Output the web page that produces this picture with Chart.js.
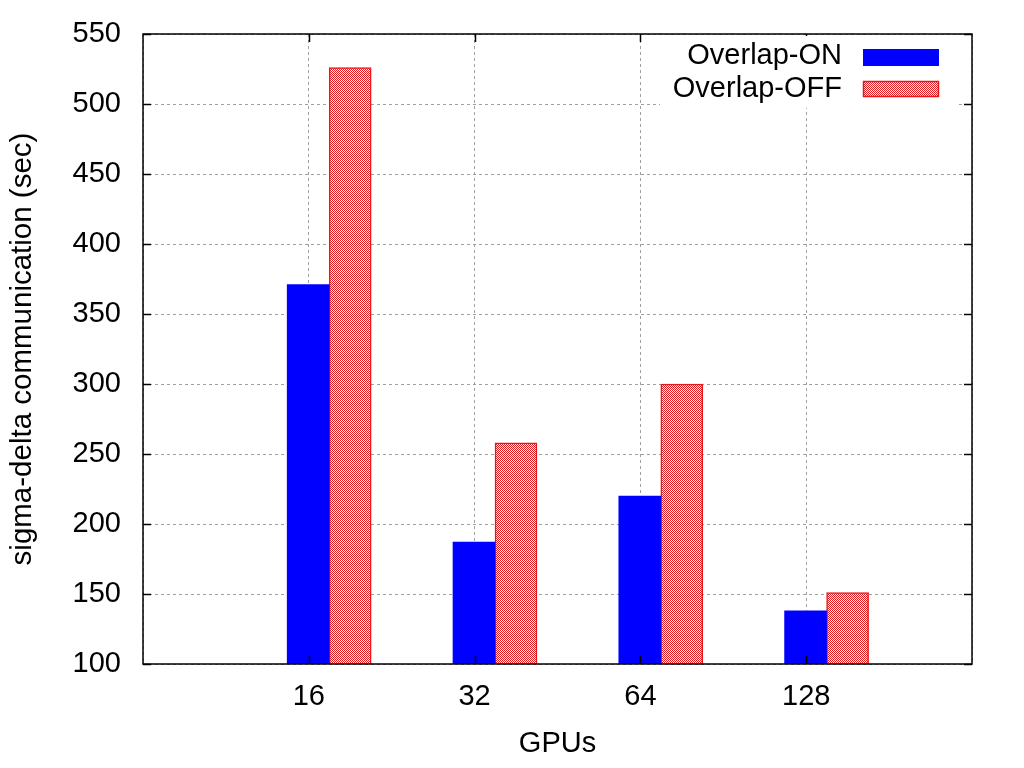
<!DOCTYPE html>
<html>
<head>
<meta charset="utf-8">
<script src="https://cdn.jsdelivr.net/npm/chart.js@4/dist/chart.umd.min.js"></script>
<style>
  body { margin: 0; background: #fff; }
  #wrap { width: 1024px; height: 768px; }
</style>
</head>
<body>
<div id="wrap"><canvas id="chart-gpus" width="1024" height="768"></canvas></div>
<script>
// values
var categories = ['16', '32', '64', '128'];
var overlapOn = [371, 187, 220, 138];
var overlapOff = [526, 258, 300, 151];
var yMin = 100, yMax = 550, yStep = 50;
var seriesNames = ['Overlap-ON', 'Overlap-OFF'];

var FONT = "'Liberation Sans', Arial, sans-serif";
var RED = 'rgb(226,24,28)';
var BLUE = '#0000ff';

// groups sit at 1..4 on a 0..5 axis; bars start at the tick like gnuplot does
var SHIFT = 0.123;
function points(arr) {
    return arr.map(function(v, i) { return { x: i + 1, y: v }; });
}

function checker() {
    var c = document.createElement('canvas');
    c.width = 2; c.height = 2;
    var g = c.getContext('2d');
    g.fillStyle = '#fff';
    g.fillRect(0, 0, 2, 2);
    g.fillStyle = RED;
    g.fillRect(0, 0, 1, 1);
    g.fillRect(1, 1, 1, 1);
    return g.createPattern(c, 'repeat');
}
var redPattern = checker();

// frame with inward ticks, and the key
var framePlugin = {
    id: 'frame',
    afterDatasetsDraw: function(chart) {
        var ctx = chart.ctx, a = chart.chartArea;
        var x = chart.scales.x, y = chart.scales.y;
        ctx.save();
        ctx.strokeStyle = '#000';
        ctx.lineWidth = 1.5;
        ctx.beginPath();
        for (var v = yMin; v <= yMax; v += yStep) {
            var py = Math.round(y.getPixelForValue(v)) + 0.5;
            ctx.moveTo(a.left, py); ctx.lineTo(a.left + 8, py);
            ctx.moveTo(a.right, py); ctx.lineTo(a.right - 8, py);
        }
        for (var i = 1; i <= categories.length; i++) {
            var px = Math.round(x.getPixelForValue(i)) + 0.5;
            ctx.moveTo(px, a.bottom); ctx.lineTo(px, a.bottom - 8);
            ctx.moveTo(px, a.top); ctx.lineTo(px, a.top + 8);
        }
        ctx.stroke();

        ctx.fillStyle = '#fff';
        ctx.fillRect(660, a.top + 2, 296, 72);
        ctx.font = '29px ' + FONT;
        ctx.textAlign = 'right';
        ctx.textBaseline = 'middle';
        ctx.fillStyle = '#000';
        ctx.fillText(seriesNames[0], 842, 56);
        ctx.fillText(seriesNames[1], 842, 89);
        ctx.fillStyle = BLUE;
        ctx.fillRect(863, 49, 76, 17);
        ctx.fillStyle = redPattern;
        ctx.fillRect(863, 81, 76, 16);
        ctx.strokeStyle = RED;
        ctx.lineWidth = 1.5;
        ctx.strokeRect(863.5, 81.5, 75, 15);

        ctx.strokeStyle = '#000';
        ctx.lineWidth = 1.5;
        ctx.strokeRect(a.left, a.top, a.right - a.left, a.bottom - a.top);
        ctx.restore();
    }
};

var ctx = document.getElementById('chart-gpus');
var myChart = new Chart(ctx, {
    type: 'bar',
    data: {
        datasets: [{
            label: seriesNames[0],
            data: points(overlapOn),
            xAxisID: 'xb',
            backgroundColor: BLUE,
            borderWidth: 0
        }, {
            label: seriesNames[1],
            data: points(overlapOff),
            xAxisID: 'xb',
            backgroundColor: redPattern,
            borderColor: RED,
            borderWidth: 1.5
        }]
    },
    plugins: [framePlugin],
    options: {
        responsive: false,
        animation: false,
        devicePixelRatio: 1,
        barThickness: 42,
        layout: { padding: { left: 0, right: 52, top: 34, bottom: 0 } },
        plugins: {
            legend: { display: false },
            tooltip: { enabled: false }
        },
        scales: {
            xb: {
                type: 'linear',
                axis: 'x',
                position: 'bottom',
                display: false,
                offset: false,
                min: 0 - SHIFT,
                max: categories.length + 1 - SHIFT
            },
            x: {
                type: 'linear',
                position: 'bottom',
                offset: false,
                min: 0,
                max: categories.length + 1,
                afterFit: function(s) {
                    s.height = 104;
                    s.paddingLeft = 0;
                    s.paddingRight = 0;
                },
                grid: { color: '#a0a0a0', lineWidth: 1, drawTicks: false, offset: false },
                border: { display: false, dash: [3, 3] },
                ticks: {
                    stepSize: 1,
                    padding: 16,
                    color: '#000',
                    maxRotation: 0,
                    autoSkip: false,
                    font: { family: FONT, size: 29 },
                    callback: function(value) {
                        return categories[value - 1] || '';
                    }
                },
                title: {
                    display: true,
                    text: 'GPUs',
                    color: '#000',
                    padding: { top: 0, bottom: 7 },
                    font: { family: FONT, size: 29 }
                }
            },
            y: {
                min: yMin,
                max: yMax,
                afterFit: function(s) {
                    s.width = 143;
                    s.paddingTop = 0;
                    s.paddingBottom = 0;
                },
                grid: { color: '#a0a0a0', lineWidth: 1, drawTicks: false },
                border: { display: false, dash: [3, 3] },
                ticks: {
                    stepSize: yStep,
                    padding: 22,
                    color: '#000',
                    font: { family: FONT, size: 29 }
                },
                title: {
                    display: true,
                    text: 'sigma-delta communication (sec)',
                    color: '#000',
                    padding: { top: 5, bottom: 0 },
                    font: { family: FONT, size: 29.5 }
                }
            }
        }
    }
});
</script>
</body>
</html>
